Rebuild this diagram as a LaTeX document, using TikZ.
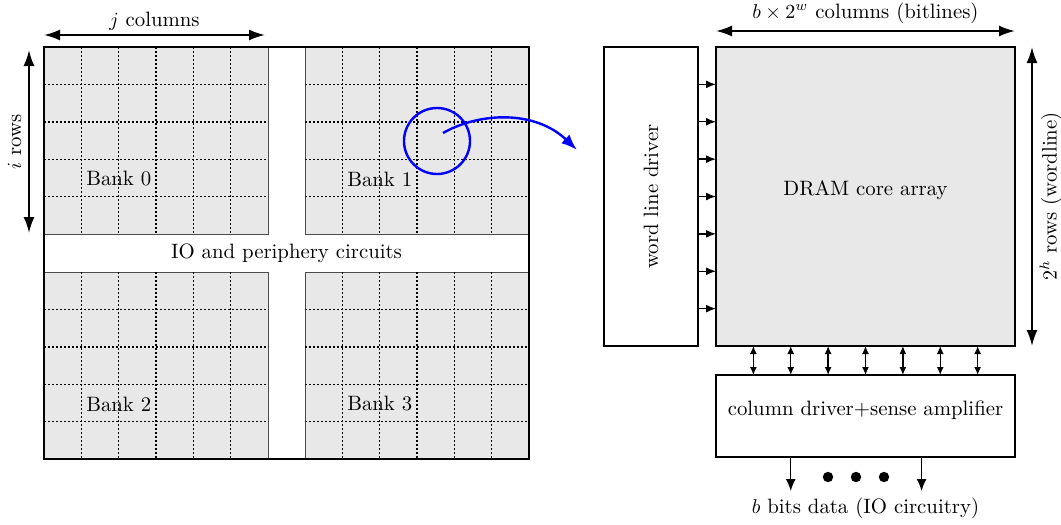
\documentclass[tikz,border=0pt]{standalone}
\usepackage{amsmath,amssymb}
\usepackage{tikz}
\usetikzlibrary{arrows.meta,positioning,calc}

\begin{document}
\begin{tikzpicture}[x=0.5pt,y=-0.5pt,>=Latex,node distance=9pt and 9pt,
 every node/.style={font=\fontsize{10.4}{12.5}\selectfont},
 bank/.style={draw=black!70,fill=black!9,anchor=north west,inner sep=0pt,outer sep=0pt,minimum width=112pt,minimum height=93.5pt},
 grid/.style={line width=0.7pt,dash pattern=on 0.8pt off 1.2pt},
 box/.style={draw,thick,inner sep=0pt,outer sep=0pt,align=center},
 dim/.style={{Latex[length=8pt,width=5.5pt]}-{Latex[length=8pt,width=5.5pt]},line width=1pt},
 wire/.style={-{Latex[length=5pt,width=4pt]},line width=0.7pt},
 zoom/.style={draw=blue,line width=1.2pt,circle,minimum size=33pt,inner sep=0pt}]
\useasboundingbox (0,0) rectangle (1061,525);
% memory chip with four banks
\node[bank] (b0) at (44,47) {};
\node[bank] (b1) at (305,47) {};
\node[bank] (b2) at (44,272) {};
\node[bank] (b3) at (305,272) {};
\foreach \b in {b0,b1,b2,b3}{
  \foreach \i in {1,...,5}
    \draw[grid] ($(\b.north west)!\i/6!(\b.north east)$) -- ($(\b.south west)!\i/6!(\b.south east)$);
  \foreach \i in {1,...,4}
    \draw[grid] ($(\b.north west)!\i/5!(\b.south west)$) -- ($(\b.north east)!\i/5!(\b.south east)$);
}
\foreach \b/\n in {b0/0,b1/1,b2/2,b3/3}
  \node (l\b) at ([xshift=37.4pt,yshift=27.5pt]\b.south west) {Bank \n};
\draw[line width=1.4pt] (b0.north west) rectangle (b3.south east);
\node (io) at ($(b0.south west)!0.5!(b3.north east)$) {IO and periphery circuits};
\draw[dim] ([yshift=6pt]b0.north west) -- ([yshift=6pt,xshift=-1.5pt]b0.north east) node[midway,above=-1.5pt] {$j$ columns};
\draw[dim] ([xshift=-7.5pt,yshift=0.5pt]b0.south west) -- ([xshift=-7.5pt,yshift=-1.5pt]b0.north west) node[midway,above,sloped] {$i$ rows};
% zoom into one bank
\node[zoom] (zc) at (437,141) {};
\coordinate (zs) at (443,133);
\coordinate (ze) at (577,150);
\draw[-{Latex[length=8pt,width=6pt]},blue,line width=1.2pt] (zs) .. controls (480,112) and (535,110) .. (ze);
% DRAM array
\node[box,fill=black!9,anchor=north west,minimum width=149.5pt,minimum height=149.5pt] (core) at (716,47) {};
\node at ([yshift=3pt]core.center) {DRAM core array};
\node[box,left=of core,minimum width=47pt,minimum height=149.5pt] (wld) {};
\node[rotate=90] at (wld.center) {word line driver};
\node[box,below=14.5pt of core,minimum width=149.5pt,minimum height=41pt] (cdrv) {};
\node at ([yshift=3pt]cdrv.center) {column driver+sense amplifier};
\foreach \i in {1,...,7}{
  \draw[wire] ($(wld.north east)!\i/8!(wld.south east)$) -- ($(core.north west)!\i/8!(core.south west)$);
  \draw[{Latex[length=4pt,width=3.5pt]}-{Latex[length=4pt,width=3.5pt]},line width=0.7pt] ($(core.south west)!\i/8!(core.south east)$) -- ($(cdrv.north west)!\i/8!(cdrv.north east)$);
}
\draw[dim] ([yshift=8pt]core.north west) -- ([yshift=8pt]core.north east) node[midway,above] {$b\times 2^w$ columns (bitlines)};
\draw[dim] ([xshift=8.5pt]core.south east) -- ([xshift=8.5pt]core.north east) node[midway,below,sloped] {$2^h$ rows (wordline)};
% data out
\node[below=17pt of cdrv] (bits) {$b$ bits data (IO circuitry)};
\draw[wire,-{Latex[length=6pt,width=5pt]}] ($(cdrv.south west)!2/8!(cdrv.south east)$) coordinate (o1) -- (bits.north -| o1);
\draw[wire,-{Latex[length=6pt,width=5pt]}] ($(cdrv.south west)!5.5/8!(cdrv.south east)$) coordinate (o2) -- (bits.north -| o2);
\foreach \x in {828,856,884}
  \fill (\x,477) circle[radius=2.6pt];
\end{tikzpicture}
\end{document}
